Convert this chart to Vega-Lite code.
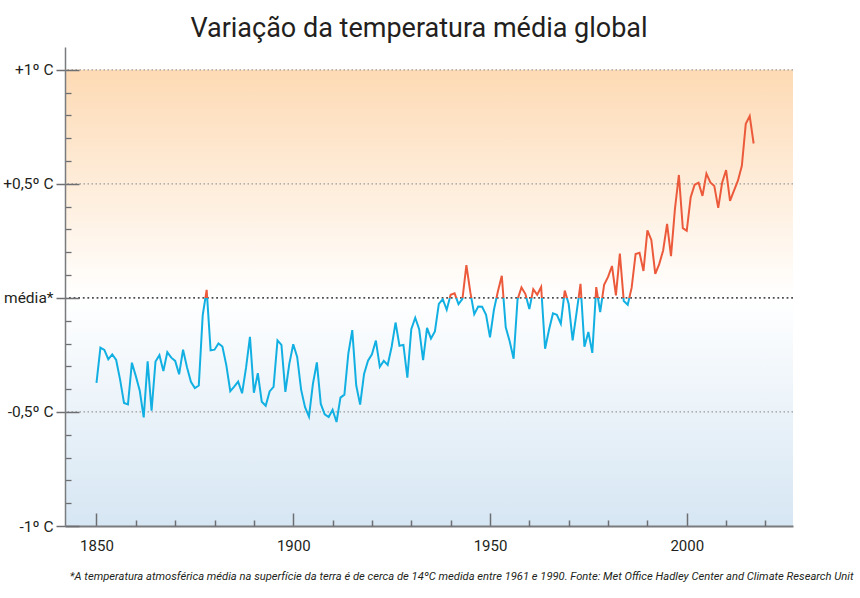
{
  "$schema": "https://vega.github.io/schema/vega-lite/v6.json",
  "width": 728,
  "height": 479,
  "autosize": {"type": "none"},
  "padding": {"left": 65, "top": 47, "right": 67, "bottom": 72},
  "background": "#ffffff",
  "config": {"view": {"stroke": null}},
  "title": {
    "text": "Variação da temperatura média global",
    "font": "Roboto, sans-serif",
    "fontSize": 27,
    "fontWeight": "normal",
    "color": "#231f20",
    "anchor": "middle",
    "dx": -10,
    "offset": 4
  },
  "data": {
    "values": [
      {"year": 1850, "anomaly": -0.373}, {"year": 1851, "anomaly": -0.218}, {"year": 1852, "anomaly": -0.228}, {"year": 1853, "anomaly": -0.269},
      {"year": 1854, "anomaly": -0.248}, {"year": 1855, "anomaly": -0.272}, {"year": 1856, "anomaly": -0.358}, {"year": 1857, "anomaly": -0.461},
      {"year": 1858, "anomaly": -0.467}, {"year": 1859, "anomaly": -0.284}, {"year": 1860, "anomaly": -0.343}, {"year": 1861, "anomaly": -0.407},
      {"year": 1862, "anomaly": -0.524}, {"year": 1863, "anomaly": -0.278}, {"year": 1864, "anomaly": -0.494}, {"year": 1865, "anomaly": -0.279},
      {"year": 1866, "anomaly": -0.251}, {"year": 1867, "anomaly": -0.321}, {"year": 1868, "anomaly": -0.238}, {"year": 1869, "anomaly": -0.262},
      {"year": 1870, "anomaly": -0.276}, {"year": 1871, "anomaly": -0.335}, {"year": 1872, "anomaly": -0.227}, {"year": 1873, "anomaly": -0.304},
      {"year": 1874, "anomaly": -0.368}, {"year": 1875, "anomaly": -0.395}, {"year": 1876, "anomaly": -0.384}, {"year": 1877, "anomaly": -0.075},
      {"year": 1878, "anomaly": 0.035}, {"year": 1879, "anomaly": -0.23}, {"year": 1880, "anomaly": -0.227}, {"year": 1881, "anomaly": -0.2},
      {"year": 1882, "anomaly": -0.213}, {"year": 1883, "anomaly": -0.296}, {"year": 1884, "anomaly": -0.409}, {"year": 1885, "anomaly": -0.389},
      {"year": 1886, "anomaly": -0.367}, {"year": 1887, "anomaly": -0.418}, {"year": 1888, "anomaly": -0.307}, {"year": 1889, "anomaly": -0.171},
      {"year": 1890, "anomaly": -0.416}, {"year": 1891, "anomaly": -0.33}, {"year": 1892, "anomaly": -0.455}, {"year": 1893, "anomaly": -0.473},
      {"year": 1894, "anomaly": -0.41}, {"year": 1895, "anomaly": -0.39}, {"year": 1896, "anomaly": -0.186}, {"year": 1897, "anomaly": -0.206},
      {"year": 1898, "anomaly": -0.412}, {"year": 1899, "anomaly": -0.289}, {"year": 1900, "anomaly": -0.203}, {"year": 1901, "anomaly": -0.259},
      {"year": 1902, "anomaly": -0.402}, {"year": 1903, "anomaly": -0.479}, {"year": 1904, "anomaly": -0.52}, {"year": 1905, "anomaly": -0.377},
      {"year": 1906, "anomaly": -0.283}, {"year": 1907, "anomaly": -0.465}, {"year": 1908, "anomaly": -0.511}, {"year": 1909, "anomaly": -0.522},
      {"year": 1910, "anomaly": -0.49}, {"year": 1911, "anomaly": -0.544}, {"year": 1912, "anomaly": -0.437}, {"year": 1913, "anomaly": -0.424},
      {"year": 1914, "anomaly": -0.244}, {"year": 1915, "anomaly": -0.141}, {"year": 1916, "anomaly": -0.383}, {"year": 1917, "anomaly": -0.468},
      {"year": 1918, "anomaly": -0.333}, {"year": 1919, "anomaly": -0.275}, {"year": 1920, "anomaly": -0.247}, {"year": 1921, "anomaly": -0.187},
      {"year": 1922, "anomaly": -0.302}, {"year": 1923, "anomaly": -0.276}, {"year": 1924, "anomaly": -0.294}, {"year": 1925, "anomaly": -0.215},
      {"year": 1926, "anomaly": -0.108}, {"year": 1927, "anomaly": -0.21}, {"year": 1928, "anomaly": -0.206}, {"year": 1929, "anomaly": -0.35},
      {"year": 1930, "anomaly": -0.137}, {"year": 1931, "anomaly": -0.087}, {"year": 1932, "anomaly": -0.137}, {"year": 1933, "anomaly": -0.273},
      {"year": 1934, "anomaly": -0.131}, {"year": 1935, "anomaly": -0.178}, {"year": 1936, "anomaly": -0.147}, {"year": 1937, "anomaly": -0.026},
      {"year": 1938, "anomaly": -0.006}, {"year": 1939, "anomaly": -0.052}, {"year": 1940, "anomaly": 0.014}, {"year": 1941, "anomaly": 0.02},
      {"year": 1942, "anomaly": -0.027}, {"year": 1943, "anomaly": -0.004}, {"year": 1944, "anomaly": 0.144}, {"year": 1945, "anomaly": 0.025},
      {"year": 1946, "anomaly": -0.071}, {"year": 1947, "anomaly": -0.038}, {"year": 1948, "anomaly": -0.039}, {"year": 1949, "anomaly": -0.074},
      {"year": 1950, "anomaly": -0.173}, {"year": 1951, "anomaly": -0.052}, {"year": 1952, "anomaly": 0.028}, {"year": 1953, "anomaly": 0.097},
      {"year": 1954, "anomaly": -0.129}, {"year": 1955, "anomaly": -0.19}, {"year": 1956, "anomaly": -0.267}, {"year": 1957, "anomaly": -0.007},
      {"year": 1958, "anomaly": 0.046}, {"year": 1959, "anomaly": 0.017}, {"year": 1960, "anomaly": -0.049}, {"year": 1961, "anomaly": 0.038},
      {"year": 1962, "anomaly": 0.014}, {"year": 1963, "anomaly": 0.048}, {"year": 1964, "anomaly": -0.223}, {"year": 1965, "anomaly": -0.14},
      {"year": 1966, "anomaly": -0.068}, {"year": 1967, "anomaly": -0.074}, {"year": 1968, "anomaly": -0.113}, {"year": 1969, "anomaly": 0.032},
      {"year": 1970, "anomaly": -0.027}, {"year": 1971, "anomaly": -0.186}, {"year": 1972, "anomaly": -0.065}, {"year": 1973, "anomaly": 0.062},
      {"year": 1974, "anomaly": -0.214}, {"year": 1975, "anomaly": -0.149}, {"year": 1976, "anomaly": -0.241}, {"year": 1977, "anomaly": 0.047},
      {"year": 1978, "anomaly": -0.062}, {"year": 1979, "anomaly": 0.057}, {"year": 1980, "anomaly": 0.092}, {"year": 1981, "anomaly": 0.14},
      {"year": 1982, "anomaly": 0.011}, {"year": 1983, "anomaly": 0.194}, {"year": 1984, "anomaly": -0.014}, {"year": 1985, "anomaly": -0.03},
      {"year": 1986, "anomaly": 0.045}, {"year": 1987, "anomaly": 0.192}, {"year": 1988, "anomaly": 0.198}, {"year": 1989, "anomaly": 0.118},
      {"year": 1990, "anomaly": 0.296}, {"year": 1991, "anomaly": 0.254}, {"year": 1992, "anomaly": 0.105}, {"year": 1993, "anomaly": 0.148},
      {"year": 1994, "anomaly": 0.208}, {"year": 1995, "anomaly": 0.325}, {"year": 1996, "anomaly": 0.183}, {"year": 1997, "anomaly": 0.39},
      {"year": 1998, "anomaly": 0.539}, {"year": 1999, "anomaly": 0.306}, {"year": 2000, "anomaly": 0.294}, {"year": 2001, "anomaly": 0.441},
      {"year": 2002, "anomaly": 0.496}, {"year": 2003, "anomaly": 0.505}, {"year": 2004, "anomaly": 0.447}, {"year": 2005, "anomaly": 0.545},
      {"year": 2006, "anomaly": 0.506}, {"year": 2007, "anomaly": 0.491}, {"year": 2008, "anomaly": 0.395}, {"year": 2009, "anomaly": 0.506},
      {"year": 2010, "anomaly": 0.56}, {"year": 2011, "anomaly": 0.425}, {"year": 2012, "anomaly": 0.47}, {"year": 2013, "anomaly": 0.514},
      {"year": 2014, "anomaly": 0.579}, {"year": 2015, "anomaly": 0.763}, {"year": 2016, "anomaly": 0.797}, {"year": 2017, "anomaly": 0.677}
    ]
  },
  "layer": [
    {
      "data": {"values": [{}]},
      "mark": {
        "type": "rect",
        "fill": {
          "gradient": "linear", "x1": 0, "y1": 0, "x2": 0, "y2": 1,
          "stops": [
            {"offset": 0, "color": "#fddab4"},
            {"offset": 0.5, "color": "#ffffff"},
            {"offset": 1, "color": "#d6e6f3"}
          ]
        }
      },
      "encoding": {
        "x": {"datum": 1842, "type": "quantitative", "scale": {"domain": [1842, 2027], "nice": false, "zero": false}, "axis": null},
        "x2": {"datum": 2027},
        "y": {"datum": 1, "type": "quantitative", "scale": {"domain": [-1, 1.1], "nice": false, "zero": false}, "axis": null},
        "y2": {"datum": -1}
      }
    },
    {
      "data": {"values": [{"g": 1}, {"g": 0.5}, {"g": -0.5}]},
      "mark": {"type": "rule", "color": "#9b9b9b", "strokeWidth": 1.2, "strokeDash": [1.5, 2.5]},
      "encoding": {
        "y": {"field": "g", "type": "quantitative", "scale": {"domain": [-1, 1.1], "nice": false, "zero": false}, "axis": null}
      }
    },
    {
      "data": {"values": [{"g": 0}]},
      "mark": {"type": "rule", "color": "#4d4d4f", "strokeWidth": 1.8, "strokeDash": [1.8, 2.8]},
      "encoding": {
        "y": {"field": "g", "type": "quantitative", "scale": {"domain": [-1, 1.1], "nice": false, "zero": false}, "axis": null}
      }
    },
    {
      "mark": {"type": "point", "opacity": 0},
      "encoding": {
        "x": {
          "field": "year", "type": "quantitative",
          "scale": {"domain": [1842, 2027], "nice": false, "zero": false},
          "axis": {
            "orient": "bottom", "zindex": 1, "values": [1850, 1900, 1950, 2000],
            "labels": false, "title": null, "grid": false,
            "ticks": true, "tickSize": -13, "tickWidth": 1.5, "tickColor": "#6d6e71",
            "domain": true, "domainColor": "#7a7b7e", "domainWidth": 2
          }
        },
        "y": {
          "field": "anomaly", "type": "quantitative",
          "scale": {"domain": [-1, 1.1], "nice": false, "zero": false},
          "axis": {
            "orient": "left", "zindex": 1, "values": [-1, -0.5, 0, 0.5, 1],
            "labels": false, "title": null, "grid": false, "domain": false,
            "ticks": true, "tickSize": -14, "tickWidth": 1.5, "tickColor": "#6d6e71"
          }
        }
      }
    },
    {
      "mark": {"type": "point", "opacity": 0},
      "encoding": {
        "x": {
          "field": "year", "type": "quantitative",
          "scale": {"domain": [1842, 2027], "nice": false, "zero": false},
          "axis": {
            "orient": "bottom", "zindex": 1,
            "values": [1860, 1870, 1880, 1890, 1910, 1920, 1930, 1940, 1960, 1970, 1980, 1990, 2010, 2020],
            "labels": false, "title": null, "grid": false, "domain": false,
            "ticks": true, "tickSize": -6, "tickWidth": 1.5, "tickColor": "#6d6e71"
          }
        },
        "y": {
          "field": "anomaly", "type": "quantitative",
          "scale": {"domain": [-1, 1.1], "nice": false, "zero": false},
          "axis": {
            "orient": "left", "zindex": 1,
            "values": [-0.9, -0.8, -0.7, -0.6, -0.4, -0.3, -0.2, -0.1, 0.1, 0.2, 0.3, 0.4, 0.6, 0.7, 0.8, 0.9],
            "labels": false, "title": null, "grid": false, "domain": false,
            "ticks": true, "tickSize": -6, "tickWidth": 1.3, "tickColor": "#6d6e71"
          }
        }
      }
    },
    {
      "mark": {
        "type": "line",
        "strokeWidth": 2,
        "interpolate": "linear",
        "stroke": {
          "gradient": "linear", "x1": 0, "y1": 0, "x2": 0, "y2": 1,
          "stops": [
            {"offset": 0, "color": "#ec5a3c"},
            {"offset": 0.5943, "color": "#ec5a3c"},
            {"offset": 0.5943, "color": "#12b0e2"},
            {"offset": 1, "color": "#12b0e2"}
          ]
        }
      },
      "encoding": {
        "x": {
          "field": "year", "type": "quantitative",
          "scale": {"domain": [1842, 2027], "nice": false, "zero": false},
          "axis": {
            "orient": "bottom", "zindex": 1, "values": [1850, 1900, 1950, 2000], "format": "d",
            "ticks": false, "domain": false, "grid": false,
            "labelFont": "Roboto, sans-serif",
            "labelFontSize": 15, "labelColor": "#231f20", "labelPadding": 12,
            "title": "*A temperatura atmosférica média na superfície da terra é de cerca de 14ºC medida entre 1961 e 1990. Fonte: Met Office Hadley Center and Climate Research Unit",
            "titleFont": "Roboto, sans-serif",
            "titleFontStyle": "italic", "titleFontWeight": "normal", "titleFontSize": 11.2,
            "titleColor": "#231f20", "titleX": 788, "titleY": 53, "titleAlign": "right", "titleBaseline": "alphabetic"
          }
        },
        "y": {
          "field": "anomaly", "type": "quantitative",
          "scale": {"domain": [-1, 1.1], "nice": false, "zero": false},
          "axis": {
            "orient": "left", "zindex": 1, "values": [-1, -0.5, 0, 0.5, 1],
            "labelExpr": "datum.value == 1 ? '+1º C' : datum.value == 0.5 ? '+0,5º C' : datum.value == 0 ? 'média*' : datum.value == -0.5 ? '-0,5º C' : '-1º C'",
            "labelFont": "Roboto, sans-serif",
            "labelFontSize": 15.5, "labelColor": "#231f20", "labelPadding": 3,
            "ticks": true, "tickSize": 9, "tickWidth": 1.5, "tickColor": "#6d6e71",
            "domain": true, "domainColor": "#7a7b7e", "domainWidth": 1.5,
            "grid": false, "title": null
          }
        }
      }
    }
  ],
  "resolve": {"axis": {"x": "independent", "y": "independent"}}
}
